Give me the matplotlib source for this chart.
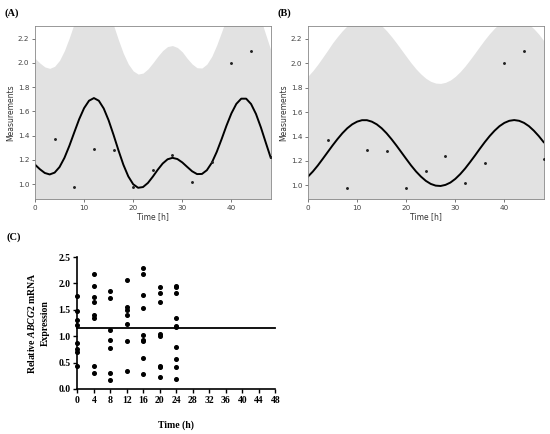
import numpy as np
import matplotlib
matplotlib.use('Agg')
import matplotlib.pyplot as plt

# --- data ---
# measured points (shared by panels A and B)
t_meas = [4, 8, 12, 16, 20, 24, 28, 32, 36, 40, 44, 48]
y_meas = [1.37, 0.98, 1.29, 1.28, 0.98, 1.12, 1.24, 1.02, 1.18, 2.00, 2.10, 1.22]

# fitted curves, hourly readings 0..48 h
t_fit = list(range(49))
fitA = [1.161, 1.123, 1.092, 1.080, 1.095, 1.141, 1.217, 1.316, 1.427, 1.536,
        1.627, 1.688, 1.710, 1.688, 1.624, 1.526, 1.406, 1.279, 1.160, 1.064,
        0.999, 0.970, 0.976, 1.010, 1.062, 1.119, 1.170, 1.205, 1.217, 1.207,
        1.179, 1.142, 1.106, 1.083, 1.084, 1.115, 1.176, 1.265, 1.371, 1.483,
        1.584, 1.662, 1.705, 1.705, 1.661, 1.579, 1.468, 1.342, 1.218]
upperA = [2.038, 1.999, 1.967, 1.955, 1.972, 2.021, 2.102, 2.208, 2.327, 2.441,
          2.535, 2.598, 2.620, 2.598, 2.532, 2.431, 2.311, 2.189, 2.078, 1.991,
          1.934, 1.908, 1.916, 1.950, 2.000, 2.054, 2.102, 2.135, 2.143, 2.127,
          2.091, 2.037, 1.991, 1.960, 1.958, 1.990, 2.054, 2.147, 2.256, 2.370,
          2.472, 2.551, 2.595, 2.595, 2.551, 2.469, 2.358, 2.232, 2.108]
fitB = [1.072, 1.114, 1.163, 1.217, 1.272, 1.327, 1.379, 1.427, 1.468, 1.500,
        1.522, 1.534, 1.534, 1.522, 1.500, 1.468, 1.427, 1.379, 1.327, 1.272,
        1.217, 1.163, 1.114, 1.072, 1.037, 1.012, 0.998, 0.995, 1.004, 1.023,
        1.053, 1.092, 1.138, 1.190, 1.244, 1.300, 1.354, 1.404, 1.448, 1.485,
        1.512, 1.529, 1.535, 1.529, 1.512, 1.485, 1.448, 1.404, 1.354]
upperB = [1.895, 1.940, 1.992, 2.049, 2.107, 2.167, 2.219, 2.267, 2.308, 2.340,
          2.362, 2.374, 2.374, 2.362, 2.340, 2.308, 2.267, 2.219, 2.167, 2.112,
          2.057, 2.003, 1.954, 1.912, 1.877, 1.852, 1.838, 1.835, 1.844, 1.863,
          1.893, 1.932, 1.978, 2.030, 2.084, 2.140, 2.194, 2.244, 2.288, 2.325,
          2.352, 2.364, 2.370, 2.364, 2.347, 2.320, 2.283, 2.239, 2.186]

# panel C: relative ABCG2 expression per time point
c_t0 = [1.77, 1.47, 1.31, 1.21, 0.87, 0.75, 0.71, 0.43]
c_t4 = [2.17, 1.95, 1.75, 1.65, 1.41, 1.34, 0.43, 0.30]
c_t8 = [1.86, 1.72, 1.12, 0.92, 0.78, 0.30, 0.17]
c_t12 = [2.06, 1.56, 1.50, 1.40, 1.23, 0.91, 0.34]
c_t16 = [2.30, 2.18, 1.78, 1.53, 1.03, 0.92, 0.90, 0.58, 0.29]
c_t20 = [1.94, 1.82, 1.65, 1.05, 1.00, 0.44, 0.42, 0.23]
c_t24 = [1.96, 1.94, 1.82, 1.34, 1.20, 1.17, 0.80, 0.56, 0.41, 0.18]
c_times = [0, 4, 8, 12, 16, 20, 24]
c_mesor = 1.15

plt.rcParams['mathtext.fontset'] = 'custom'
plt.rcParams['mathtext.it'] = 'Liberation Serif:italic:bold'
plt.rcParams['mathtext.rm'] = 'Liberation Serif:bold'

fig = plt.figure(figsize=(5.5, 4.34), dpi=100)

def cosinor_panel(rect, fit, upper, ylim):
    ax = fig.add_axes(rect)
    ax.fill_between(t_fit, 0, upper, color='#e2e2e2', lw=0)
    ax.plot(t_fit, fit, color='black', lw=1.4)
    ax.scatter(t_meas, y_meas, s=1.2, color='#222222', zorder=3)
    ax.set_xlim(0, 48)
    ax.set_ylim(*ylim)
    ax.set_xticks([0, 10, 20, 30, 40])
    ax.set_yticks([1.0, 1.2, 1.4, 1.6, 1.8, 2.0, 2.2])
    ax.set_yticklabels(['1.0', '1.2', '1.4', '1.6', '1.8', '2.0', '2.2'])
    ax.tick_params(labelsize=5.2, colors='#444444', length=2, width=0.5, pad=2)
    for s in ax.spines.values():
        s.set_color('#888888')
        s.set_linewidth(0.6)
    ax.set_xlabel('Time [h]', fontsize=5.5, color='#333333', labelpad=1)
    ax.set_ylabel('Measurements', fontsize=5.5, color='#333333', labelpad=2)
    return ax

cosinor_panel([0.0636, 0.5408, 0.4286, 0.40], fitA, upperA, (0.875, 2.307))
cosinor_panel([0.560, 0.5408, 0.4285, 0.40], fitB, upperB, (0.886, 2.308))

# panel C
axc = fig.add_axes([0.1405, 0.1037, 0.360, 0.304])
cols = [c_t0, c_t4, c_t8, c_t12, c_t16, c_t20, c_t24]
for t, vals in zip(c_times, cols):
    axc.plot([t] * len(vals), vals, 'o', color='black', ms=2.6, clip_on=False, zorder=3)
axc.plot([0, 48], [c_mesor, c_mesor], color='black', lw=1.3, clip_on=False)
axc.set_xlim(0, 48)
axc.set_ylim(0, 2.5)
axc.set_xticks(range(0, 49, 4))
axc.set_yticks([0.0, 0.5, 1.0, 1.5, 2.0, 2.5])
axc.set_yticklabels(['0.0', '0.5', '1.0', '1.5', '2.0', '2.5'])
axc.spines['top'].set_visible(False)
axc.spines['right'].set_visible(False)
for s in ['left', 'bottom']:
    axc.spines[s].set_linewidth(1.2)
axc.tick_params(length=3, width=1.0, pad=2)
for lab in axc.get_xticklabels() + axc.get_yticklabels():
    lab.set_fontfamily('Liberation Serif')
    lab.set_fontweight('bold')
    lab.set_fontsize(7)
axc.set_xlabel('Time (h)', fontfamily='Liberation Serif', fontweight='bold',
               fontsize=7, labelpad=11)
axc.set_ylabel('Relative $\\mathit{ABCG2}$ mRNA\nExpression', fontfamily='Liberation Serif',
               fontweight='bold', fontsize=7, labelpad=6, linespacing=1.5)

# panel letters
lab_kw = dict(fontfamily='Liberation Serif', fontweight='bold', fontsize=7.5, va='center')
fig.text(0.009, 1 - 13 / 434, '(A)', **lab_kw)
fig.text(0.504, 1 - 13 / 434, '(B)', **lab_kw)
fig.text(0.011, 1 - 237 / 434, '(C)', **lab_kw)

fig.savefig('out.png', dpi=100)
